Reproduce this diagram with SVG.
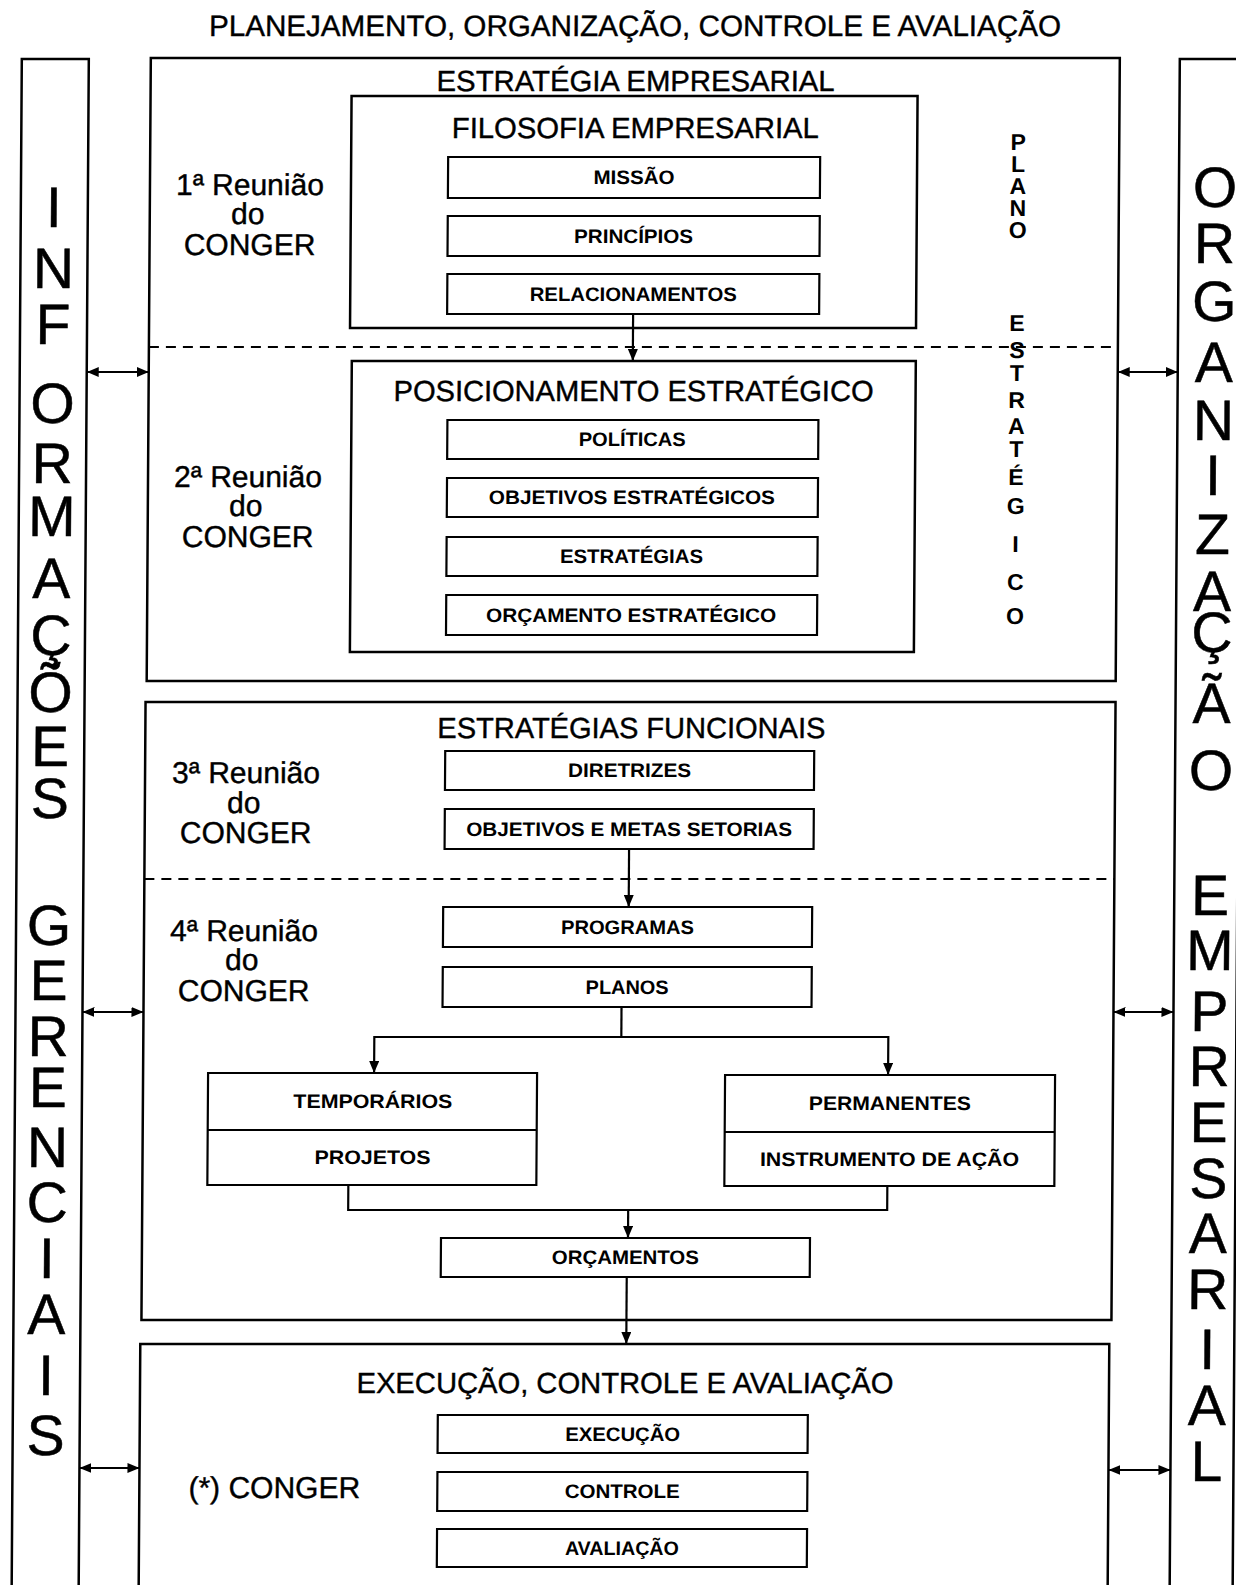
<svg xmlns="http://www.w3.org/2000/svg" width="1236" height="1585" viewBox="0 0 1236 1585">
  <style>
    text { font-family: 'Liberation Sans', Arial, sans-serif; fill: #000; }
    .frame { fill: none; stroke: #000; stroke-width: 2.5; }
    .sbox { fill: #fff; stroke: #000; stroke-width: 2.2; }
    .dash { stroke: #000; stroke-width: 2.2; stroke-dasharray: 10 7; fill: none; }
    .line { stroke: #000; stroke-width: 2.2; fill: none; }
    .head { font-size: 29px; text-anchor: middle; stroke: #000; stroke-width: 0.4; }
    .lbl { font-size: 19.5px; font-weight: bold; text-anchor: middle; }
    .meet { font-size: 30px; text-anchor: middle; stroke: #000; stroke-width: 0.4; }
    .big { font-size: 57px; text-anchor: middle; stroke: #000; stroke-width: 0.5; }
    .pe { font-size: 23px; font-weight: bold; text-anchor: middle; }
  </style>
  <defs>
    <marker id="arrow" viewBox="0 0 12 10" refX="12" refY="5" markerWidth="12" markerHeight="10" markerUnits="userSpaceOnUse" orient="auto-start-reverse">
      <path d="M0,0 L12,5 L0,10 z" fill="#000"/>
    </marker>
    <marker id="arrowS" viewBox="0 0 12 10" refX="12" refY="5" markerWidth="12" markerHeight="10" markerUnits="userSpaceOnUse" orient="auto-start-reverse">
      <path d="M0,0 L12,5 L0,10 z" fill="#000"/>
    </marker>
  </defs>

  <rect width="1236" height="1585" fill="#fff"/>

  <!-- whole sheet leans slightly: verticals drift left towards the bottom -->
  <g transform="translate(5.2 0) skewX(-0.38)">
    <!-- overall heading -->
    <text id="title" x="630" y="36" font-size="29.5" text-anchor="middle" stroke="#000" stroke-width="0.4" textLength="852" lengthAdjust="spacingAndGlyphs">PLANEJAMENTO, ORGANIZAÇÃO, CONTROLE E AVALIAÇÃO</text>

    <!-- left column: management information -->
    <g id="info-bar">
      <rect class="frame" x="17" y="59" width="67" height="1570"/>
      <g class="big">
        <text x="50" y="227">I</text>
        <text x="50" y="288">N</text>
        <text x="50" y="344">F</text>
        <text x="50" y="423">O</text>
        <text x="50" y="483">R</text>
        <text x="50" y="536">M</text>
        <text x="50" y="598">A</text>
        <text x="50" y="655">Ç</text>
        <text x="50" y="712">Õ</text>
        <text x="50" y="766">E</text>
        <text x="50" y="818">S</text>
        <text x="50" y="945">G</text>
        <text x="50" y="1000">E</text>
        <text x="50" y="1056">R</text>
        <text x="50" y="1107">E</text>
        <text x="50" y="1167">N</text>
        <text x="50" y="1222">C</text>
        <text x="50" y="1278">I</text>
        <text x="50" y="1334">A</text>
        <text x="50" y="1395">I</text>
        <text x="50" y="1455">S</text>
      </g>
    </g>

    <!-- right column: company organization -->
    <g id="org-bar">
      <rect class="frame" x="1175" y="59" width="63" height="1570"/>
      <g class="big">
        <text x="1211" y="207">O</text>
        <text x="1211" y="263">R</text>
        <text x="1211" y="321">G</text>
        <text x="1211" y="382">A</text>
        <text x="1211" y="440">N</text>
        <text x="1211" y="495">I</text>
        <text x="1211" y="554">Z</text>
        <text x="1211" y="611">A</text>
        <text x="1211" y="652">Ç</text>
        <text x="1211" y="723">Ã</text>
        <text x="1211" y="790">O</text>
        <text x="1211" y="915">E</text>
        <text x="1211" y="970">M</text>
        <text x="1211" y="1031">P</text>
        <text x="1211" y="1086">R</text>
        <text x="1211" y="1142">E</text>
        <text x="1211" y="1198">S</text>
        <text x="1211" y="1253">A</text>
        <text x="1211" y="1309">R</text>
        <text x="1211" y="1369">I</text>
        <text x="1211" y="1425">A</text>
        <text x="1211" y="1481">L</text>
      </g>
    </g>

    <!-- business strategy block -->
    <g id="estrategia-empresarial">
      <rect class="frame" x="146" y="58" width="969" height="623"/>
      <text class="head" x="631" y="91" textLength="398" lengthAdjust="spacingAndGlyphs">ESTRATÉGIA EMPRESARIAL</text>
      <line class="dash" x1="146" y1="347" x2="1115" y2="347"/>
      <g class="meet">
        <text x="246" y="195">1ª Reunião</text>
        <text x="244" y="224">do</text>
        <text x="246" y="255">CONGER</text>
        <text x="246" y="487">2ª Reunião</text>
        <text x="244" y="516">do</text>
        <text x="246" y="547">CONGER</text>
      </g>
      <g class="pe">
        <text x="1014" y="150">P</text>
        <text x="1014" y="172">L</text>
        <text x="1014" y="194">A</text>
        <text x="1014" y="216">N</text>
        <text x="1014" y="238">O</text>
        <text x="1014" y="331">E</text>
        <text x="1014" y="358">S</text>
        <text x="1014" y="381">T</text>
        <text x="1014" y="408">R</text>
        <text x="1014" y="434">A</text>
        <text x="1014" y="457">T</text>
        <text x="1014" y="485">É</text>
        <text x="1014" y="514">G</text>
        <text x="1014" y="552">I</text>
        <text x="1014" y="590">C</text>
        <text x="1014" y="624">O</text>
      </g>
    </g>

    <g id="filosofia">
      <rect class="frame" x="347" y="96" width="566" height="232"/>
      <text class="head" x="631" y="138" textLength="367" lengthAdjust="spacingAndGlyphs">FILOSOFIA EMPRESARIAL</text>
    </g>
    <g id="missao">
      <rect class="sbox" x="444" y="157" width="372" height="41"/>
      <text class="lbl" x="630" y="184.5" textLength="81" lengthAdjust="spacingAndGlyphs">MISSÃO</text>
    </g>
    <g id="principios">
      <rect class="sbox" x="444" y="216" width="372" height="40"/>
      <text class="lbl" x="630" y="243" textLength="119" lengthAdjust="spacingAndGlyphs">PRINCÍPIOS</text>
    </g>
    <g id="relacionamentos">
      <rect class="sbox" x="444" y="274" width="372" height="40"/>
      <text class="lbl" x="630" y="301" textLength="207" lengthAdjust="spacingAndGlyphs">RELACIONAMENTOS</text>
    </g>

    <g id="posicionamento">
      <rect class="frame" x="349" y="361" width="564" height="291"/>
      <text class="head" x="631" y="401" textLength="480" lengthAdjust="spacingAndGlyphs">POSICIONAMENTO ESTRATÉGICO</text>
    </g>
    <g id="politicas">
      <rect class="sbox" x="445" y="420" width="371" height="39"/>
      <text class="lbl" x="630" y="446.5" textLength="107" lengthAdjust="spacingAndGlyphs">POLÍTICAS</text>
    </g>
    <g id="objetivos-estrategicos">
      <rect class="sbox" x="445" y="478" width="371" height="39"/>
      <text class="lbl" x="630" y="504.5" textLength="286" lengthAdjust="spacingAndGlyphs">OBJETIVOS ESTRATÉGICOS</text>
    </g>
    <g id="estrategias">
      <rect class="sbox" x="445" y="537" width="371" height="39"/>
      <text class="lbl" x="630" y="563.5" textLength="143" lengthAdjust="spacingAndGlyphs">ESTRATÉGIAS</text>
    </g>
    <g id="orcamento-estrategico">
      <rect class="sbox" x="445" y="595" width="371" height="40"/>
      <text class="lbl" x="630" y="622" textLength="290" lengthAdjust="spacingAndGlyphs">ORÇAMENTO ESTRATÉGICO</text>
    </g>

    <!-- functional strategies block -->
    <g id="estrategias-funcionais">
      <rect class="frame" x="145" y="702" width="970" height="618"/>
      <text class="head" x="631" y="738" textLength="388" lengthAdjust="spacingAndGlyphs">ESTRATÉGIAS FUNCIONAIS</text>
      <line class="dash" x1="145" y1="879" x2="1115" y2="879"/>
      <g class="meet">
        <text x="246" y="783">3ª Reunião</text>
        <text x="244" y="813">do</text>
        <text x="246" y="843">CONGER</text>
        <text x="245" y="941">4ª Reunião</text>
        <text x="243" y="970">do</text>
        <text x="245" y="1001">CONGER</text>
      </g>
    </g>
    <g id="diretrizes">
      <rect class="sbox" x="445" y="751" width="369" height="39"/>
      <text class="lbl" x="629.5" y="777.5" textLength="123" lengthAdjust="spacingAndGlyphs">DIRETRIZES</text>
    </g>
    <g id="objetivos-metas">
      <rect class="sbox" x="445" y="809" width="369" height="40"/>
      <text class="lbl" x="629.5" y="836" textLength="326" lengthAdjust="spacingAndGlyphs">OBJETIVOS E METAS SETORIAS</text>
    </g>
    <g id="programas">
      <rect class="sbox" x="444" y="907" width="369" height="40"/>
      <text class="lbl" x="628.5" y="934" textLength="133" lengthAdjust="spacingAndGlyphs">PROGRAMAS</text>
    </g>
    <g id="planos">
      <rect class="sbox" x="444" y="967" width="369" height="40"/>
      <text class="lbl" x="628.5" y="994" textLength="83" lengthAdjust="spacingAndGlyphs">PLANOS</text>
    </g>
    <g id="temporarios">
      <rect class="sbox" x="210" y="1073" width="329" height="112"/>
      <line class="line" x1="210" y1="1130" x2="539" y2="1130"/>
      <text class="lbl" x="375" y="1108.5" textLength="159" lengthAdjust="spacingAndGlyphs">TEMPORÁRIOS</text>
      <text class="lbl" x="375" y="1164.5" textLength="116" lengthAdjust="spacingAndGlyphs">PROJETOS</text>
    </g>
    <g id="permanentes">
      <rect class="sbox" x="727" y="1075" width="330" height="111"/>
      <line class="line" x1="727" y1="1132" x2="1057" y2="1132"/>
      <text class="lbl" x="892" y="1110.5" textLength="162" lengthAdjust="spacingAndGlyphs">PERMANENTES</text>
      <text class="lbl" x="892" y="1166" textLength="259" lengthAdjust="spacingAndGlyphs">INSTRUMENTO DE AÇÃO</text>
    </g>
    <g id="orcamentos">
      <rect class="sbox" x="444" y="1238" width="369" height="39"/>
      <text class="lbl" x="628.5" y="1264.5" textLength="147" lengthAdjust="spacingAndGlyphs">ORÇAMENTOS</text>
    </g>

    <!-- execution, control and evaluation block -->
    <g id="execucao-controle-avaliacao">
      <rect class="frame" x="144" y="1344" width="969" height="280"/>
      <text class="head" x="629" y="1393" textLength="537" lengthAdjust="spacingAndGlyphs">EXECUÇÃO, CONTROLE E AVALIAÇÃO</text>
      <text class="meet" x="279" y="1498">(*) CONGER</text>
    </g>
    <g id="execucao">
      <rect class="sbox" x="442" y="1415" width="370" height="38"/>
      <text class="lbl" x="627" y="1441" textLength="115" lengthAdjust="spacingAndGlyphs">EXECUÇÃO</text>
    </g>
    <g id="controle">
      <rect class="sbox" x="442" y="1472" width="370" height="39"/>
      <text class="lbl" x="627" y="1498.5" textLength="115" lengthAdjust="spacingAndGlyphs">CONTROLE</text>
    </g>
    <g id="avaliacao">
      <rect class="sbox" x="442" y="1529" width="370" height="38"/>
      <text class="lbl" x="627" y="1555" textLength="114" lengthAdjust="spacingAndGlyphs">AVALIAÇÃO</text>
    </g>

    <!-- connectors -->
    <g id="connectors" class="line">
      <path d="M630,314 V361" marker-end="url(#arrow)"/>
      <path d="M629.5,849 V907" marker-end="url(#arrow)"/>
      <path d="M623,1007 V1037"/>
      <path d="M376,1073 V1037 H890 V1075" marker-start="url(#arrow)" marker-end="url(#arrow)"/>
      <path d="M351,1185 V1210 H890 V1186"/>
      <path d="M631,1210 V1238" marker-end="url(#arrow)"/>
      <path d="M630,1277 V1344" marker-end="url(#arrow)"/>
      <path d="M84,372 H146" marker-start="url(#arrowS)" marker-end="url(#arrowS)"/>
      <path d="M84,1012 H145" marker-start="url(#arrowS)" marker-end="url(#arrowS)"/>
      <path d="M84,1468 H144" marker-start="url(#arrowS)" marker-end="url(#arrowS)"/>
      <path d="M1115,372 H1175" marker-start="url(#arrowS)" marker-end="url(#arrowS)"/>
      <path d="M1115,1012 H1175" marker-start="url(#arrowS)" marker-end="url(#arrowS)"/>
      <path d="M1113,1470 H1175" marker-start="url(#arrowS)" marker-end="url(#arrowS)"/>
    </g>
  </g>
</svg>
